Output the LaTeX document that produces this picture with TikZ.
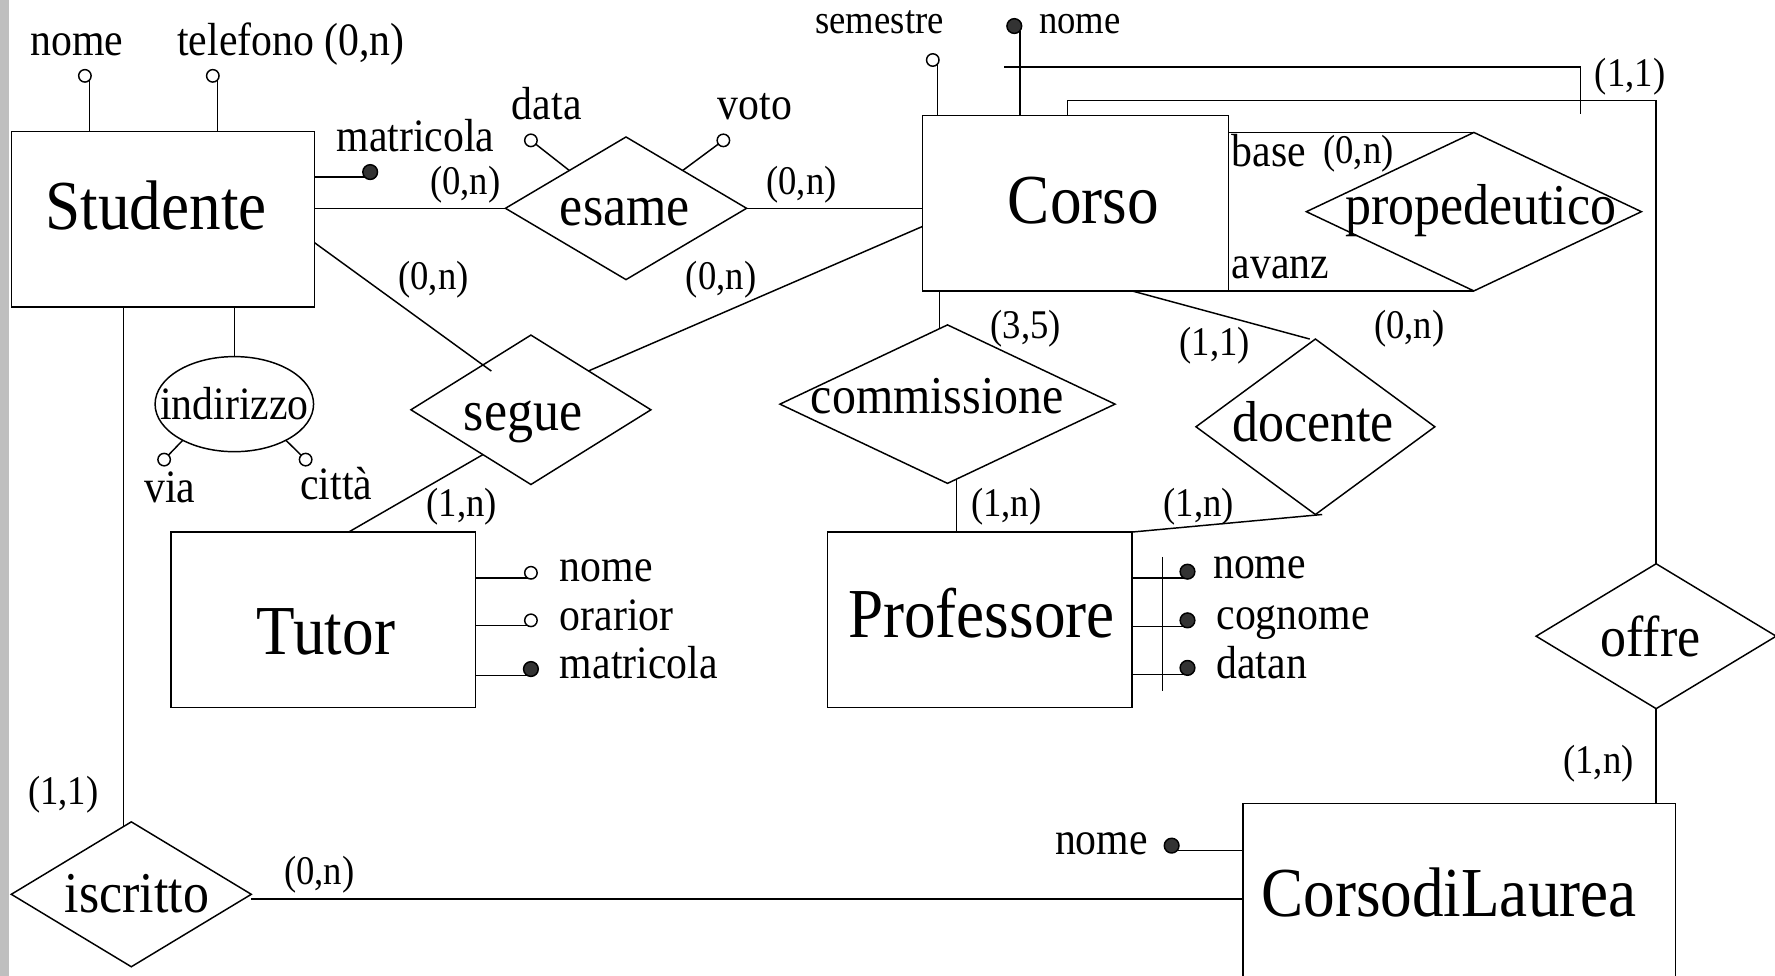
\documentclass[tikz,border=0pt]{standalone}
\usepackage{fontspec}
\setmainfont{Liberation Serif}[FakeStretch=0.9]
\usetikzlibrary{shapes.geometric,calc}
\tikzset{
  ebox/.style={draw, rectangle, inner sep=0pt, outer sep=0pt},
  rel/.style={draw, diamond, inner sep=0pt, outer sep=0pt},
  big/.style={font=\fontsize{62}{62}\selectfont, inner sep=0pt, anchor=base},
  mid/.style={font=\fontsize{51}{51}\selectfont, inner sep=0pt, anchor=base},
  att/.style={font=\fontsize{41}{41}\selectfont, inner sep=0pt, anchor=base},
  card/.style={font=\fontsize{36}{36}\selectfont, inner sep=0pt, anchor=base},
  oc/.style={draw, circle, inner sep=0pt, outer sep=0pt, minimum size=11pt, fill=white},
  fc/.style={draw, circle, inner sep=0pt, outer sep=0pt, minimum size=13pt, fill=black!80},
}
\begin{document}
\begin{tikzpicture}[x=1pt, y=-1pt, line width=1.3pt]
\useasboundingbox (0,0) rectangle (1568,862);
\clip (0,0) rectangle (1568,862);
\fill[white] (0,0) rectangle (1568,862);
\fill[black!25] (0,0) rectangle (8,862);

% entities
\node[ebox, minimum width=268pt, minimum height=155pt] (stud) at (144,193.5) {};
\node[big] (stud-t) at (138,203) {Studente};
\node[ebox, minimum width=270pt, minimum height=155pt] (corso) at (950,179.5) {};
\node[big] (corso-t) at (957,197) {Corso};
\node[ebox, minimum width=269pt, minimum height=155pt] (tutor) at (285.5,547.5) {};
\node[big] (tutor-t) at (288,578) {Tutor};
\node[ebox, minimum width=269pt, minimum height=155pt] (prof) at (865.5,547.5) {};
\node[big] (prof-t) at (867,563) {Professore};
\node[ebox, minimum width=382pt, minimum height=180pt] (cdl) at (1289,800) {};
\node[big] (cdl-t) at (1280,810) {CorsodiLaurea};

% relationships
\node[rel, minimum width=213pt, minimum height=126pt] (esame) at (553,184) {};
\node[mid] (esame-t) at (552,199) {esame};
\node[rel, minimum width=212pt, minimum height=132pt] (segue) at (469,362) {};
\node[mid] (segue-t) at (462,380) {segue};
\node[rel, minimum width=296pt, minimum height=140pt] (comm) at (837,357) {};
\node[mid, font=\fontsize{47}{47}\selectfont] (comm-t) at (828,365) {commissione};
\node[rel, minimum width=211pt, minimum height=155pt] (docente) at (1162,377) {};
\node[mid] (docente-t) at (1160,390) {docente};
\node[rel, minimum width=296pt, minimum height=140pt] (prop) at (1302,187) {};
\node[mid] (prop-t) at (1308,198) {propedeutico};
\node[rel, minimum width=212pt, minimum height=128pt] (offre) at (1463,562) {};
\node[mid] (offre-t) at (1458,580) {offre};
\node[rel, minimum width=212pt, minimum height=128pt] (isc) at (116,790) {};
\node[mid] (isc-t) at (121,806) {iscritto};
\node[draw, ellipse, minimum width=140pt, minimum height=84pt, inner sep=0pt, outer sep=0pt] (ind) at (207,357) {};
\node[att] (ind-t) at (207,371) {indirizzo};

% Studente attributes
\node[oc] (s-nome) at (75,67) {};
\draw (s-nome.-40) -- (s-nome.-40 |- stud.north);
\node[att] (s-nome-t) at (68,49) {nome};
\node[oc] (s-tel) at (188,67) {};
\draw (s-tel.-40) -- (s-tel.-40 |- stud.north);
\node[att] (s-tel-t) at (257,49) {telefono (0,n)};
\node[fc] (s-mat) at (327,152) {};
\draw (s-mat.220) -- (s-mat.220 -| stud.east);
\node[att] (s-mat-t) at (367,134) {matricola};

% esame
\draw (esame.west -| stud.east) -- (esame.west);
\node[card] (c1) at (411,172) {(0,n)};
\draw (esame.east) -- (esame.east -| corso.west);
\node[card] (c2) at (708,172) {(0,n)};
\node[oc] (e-data) at (469,124) {};
\draw (e-data) -- ($(esame.west)!0.53!(esame.north)$);
\node[att] (e-data-t) at (483,106) {data};
\node[oc] (e-voto) at (639,124) {};
\draw (e-voto) -- ($(esame.north)!0.47!(esame.east)$);
\node[att] (e-voto-t) at (667,106) {voto};

% Corso attributes
\node[oc] (c-sem) at (824,53) {};
\draw (c-sem.-40) -- (c-sem.-40 |- corso.north);
\node[card] (c-sem-t) at (777,30) {semestre};
\node[fc] (c-nome) at (896,23) {};
\draw (c-nome.-40) -- (c-nome.-40 |- corso.north);
\node[card] (c-nome-t) at (954,30) {nome};
\coordinate (xid-a) at (887,59);
\coordinate (xid-b) at (1396,101);
\draw (xid-a) -- (xid-a -| xid-b) -- (xid-b);

% offre
\draw ([xshift=-7pt]corso.north) -- ++(0,-13) -| (offre.north);
\node[card] (c3) at (1440,76) {(1,1)};
\draw (offre.south) -- (offre.south |- cdl.north);
\node[card] (c4) at (1412,683) {(1,n)};

% propedeutico
\draw (prop.north -| corso.east) -- (prop.north);
\draw (prop.south -| corso.east) -- (prop.south);
\node[att] (base-t) at (1121,147) {base};
\node[card] (c5) at (1200,144) {(0,n)};
\node[att] (avanz-t) at (1131,246) {avanz};
\node[card] (c6) at (1245,299) {(0,n)};

% commissione
\coordinate (cm-a) at ($(comm.west)!0.953!(comm.north)$);
\draw (cm-a) -- (cm-a |- corso.south);
\coordinate (cm-b) at ($(comm.south)!0.054!(comm.east)$);
\draw (cm-b) -- (cm-b |- prof.north);
\node[card] (c7) at (906,299) {(3,5)};
\node[card] (c8) at (889,456) {(1,n)};

% docente
\draw ([xshift=50pt]corso.south) -- ([xshift=-5pt]docente.north);
\draw (prof.north east) -- ([xshift=6pt]docente.south);
\node[card] (c9) at (1073,314) {(1,1)};
\node[card] (c10) at (1059,456) {(1,n)};

% segue
\coordinate (sg-s) at ([yshift=-21pt]stud.east);
\coordinate (sg-e) at ($(segue.west)!0.6!(segue.north)$);
\draw (sg-s) -- ($(sg-s)!1.05!(sg-e)$);
\node[card] (c11) at (383,256) {(0,n)};
\draw ($(segue.north)!0.48!(segue.east)$) -- ([yshift=-20.5pt]corso.west);
\node[card] (c12) at (637,256) {(0,n)};
\draw ($(segue.west)!0.6!(segue.south)$) -- ([xshift=22.5pt]tutor.north);
\node[card] (c13) at (408,456) {(1,n)};

% indirizzo
\draw (ind.north |- stud.south) -- (ind.north);
\node[oc] (i-via) at (145,406) {};
\draw (ind.215) -- (i-via);
\node[att] (i-via-t) at (150,444) {via};
\node[oc] (i-cit) at (270,406) {};
\draw (ind.325) -- (i-cit);
\node[att] (i-cit-t) at (297,441) {città};

% iscritto
\coordinate (is-a) at ($(isc.west)!0.934!(isc.north)$);
\draw (is-a) -- (is-a |- stud.south);
\node[card] (c14) at (56,711) {(1,1)};
\draw ([yshift=-4pt]isc.east) -- ([yshift=-4pt]isc.east -| cdl.west);
\node[card] (c15) at (282,781) {(0,n)};

% CorsodiLaurea attribute
\node[fc] (cl-nome) at (1035,747) {};
\draw (cl-nome.-40) -- (cl-nome.-40 -| cdl.west);
\node[att] (cl-nome-t) at (973,755) {nome};

% Tutor attributes
\node[oc] (t-nome) at (469,506) {};
\draw (t-nome.240) -- (t-nome.240 -| tutor.east);
\node[att, anchor=base west] (t-nome-t) at (494,514) {nome};
\node[oc] (t-ora) at (469,548) {};
\draw (t-ora.240) -- (t-ora.240 -| tutor.east);
\node[att, anchor=base west] (t-ora-t) at (494,557) {orarior};
\node[fc] (t-mat) at (469,591) {};
\draw (t-mat.240) -- (t-mat.240 -| tutor.east);
\node[att, anchor=base west] (t-mat-t) at (494,599) {matricola};

% Professore attributes
\node[fc] (p-nome) at (1049,505) {};
\draw (p-nome.240) -- (p-nome.240 -| prof.east);
\node[att, anchor=base west] (p-nome-t) at (1071,511) {nome};
\node[fc] (p-cog) at (1049,548) {};
\draw (p-cog.240) -- (p-cog.240 -| prof.east);
\node[att, anchor=base west] (p-cog-t) at (1074,556) {cognome};
\node[fc] (p-dat) at (1049,590) {};
\draw (p-dat.240) -- (p-dat.240 -| prof.east);
\node[att, anchor=base west] (p-dat-t) at (1074,599) {datan};
\coordinate (pid-a) at (1027,492);
\coordinate (pid-b) at (1027,610);
\draw (pid-a) -- (pid-b);
\end{tikzpicture}
\end{document}
